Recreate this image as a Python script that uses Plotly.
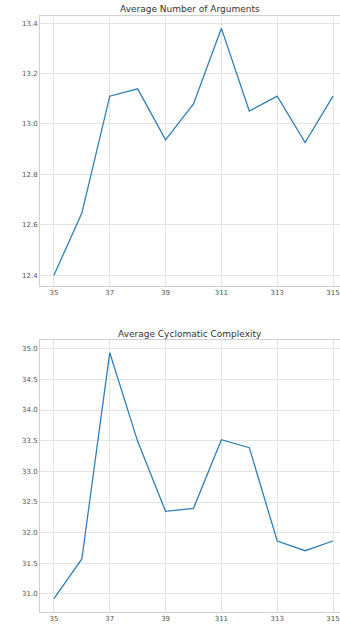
import plotly.graph_objects as go
from plotly.subplots import make_subplots

# Python versions (3.5 ... 3.15) written without the dot
versions = ["35", "36", "37", "38", "39", "310", "311", "312", "313", "314", "315"]
shown_ticks = ["35", "37", "39", "311", "313", "315"]

avg_arguments = [12.40, 12.646, 13.110, 13.139, 12.937, 13.079, 13.379, 13.051, 13.110, 12.926, 13.110]
avg_complexity = [30.924, 31.571, 34.935, 33.489, 32.348, 32.397, 33.516, 33.386, 31.864, 31.706, 31.864]

titles = ["Average Number of Arguments", "Average Cyclomatic Complexity"]

W, H = 340, 627
fig = make_subplots(rows=2, cols=1)

line_color = "#2f7fb8"
grid_color = "#e3e3e3"
spine_color = "#d0d0d0"
tick_font = dict(family="DejaVu Sans", size=7, color="#555555")

for i, vals in enumerate([avg_arguments, avg_complexity], start=1):
    fig.add_trace(
        go.Scatter(x=versions, y=vals, mode="lines",
                   line=dict(color=line_color, width=1.3), showlegend=False),
        row=i, col=1,
    )

x_dom = [40 / W, 1.0]
y_doms = [[1 - 286 / H, 1 - 16 / H], [1 - 611.7 / H, 1 - 340 / H]]
y_ranges = [[12.357, 13.428], [30.711, 35.142]]
y_ticks = [[12.4, 12.6, 12.8, 13.0, 13.2, 13.4],
           [31.0, 31.5, 32.0, 32.5, 33.0, 33.5, 34.0, 34.5, 35.0]]

for i in range(2):
    xa = "xaxis" if i == 0 else "xaxis2"
    ya = "yaxis" if i == 0 else "yaxis2"
    fig.layout[xa].update(
        domain=x_dom, type="category", range=[-0.5, 10.25],
        tickmode="array", tickvals=shown_ticks, ticktext=shown_ticks,
        showgrid=True, gridcolor=grid_color, gridwidth=1,
        showline=True, linecolor=spine_color, linewidth=1, mirror=True,
        ticks="", tickfont=tick_font, zeroline=False,
    )
    fig.layout[ya].update(
        domain=y_doms[i], range=y_ranges[i],
        tickmode="array", tickvals=y_ticks[i],
        ticktext=[format(v, ".1f") for v in y_ticks[i]],
        showgrid=True, gridcolor=grid_color, gridwidth=1,
        showline=True, linecolor=spine_color, linewidth=1, mirror=True,
        ticks="", tickfont=tick_font, zeroline=False,
    )

title_y = [1 - 9 / H, 1 - 334 / H]
for i, t in enumerate(titles):
    fig.add_annotation(
        text=t, xref="paper", yref="paper",
        x=(x_dom[0] + x_dom[1]) / 2, y=title_y[i],
        xanchor="center", yanchor="middle", showarrow=False,
        font=dict(family="DejaVu Sans", size=9, color="#333333"),
    )

fig.update_layout(
    width=W, height=H,
    margin=dict(l=0, r=0, t=0, b=0),
    paper_bgcolor="white", plot_bgcolor="white",
)

fig.write_html("out.html")
